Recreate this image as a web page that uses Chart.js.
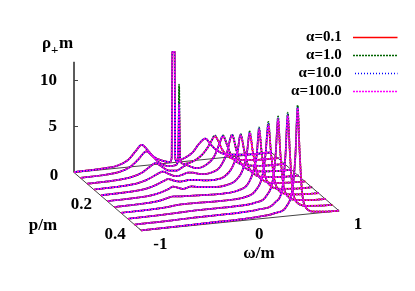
<!DOCTYPE html>
<html>
<head>
<meta charset="utf-8">
<script src="https://cdn.jsdelivr.net/npm/chart.js@4/dist/chart.umd.min.js"></script>
<style>
  html, body { margin: 0; padding: 0; background: #fff; }
  canvas { display: block; }
</style>
</head>
<body>
<canvas id="chart" width="415" height="291"></canvas>
<script>
// One curve per momentum
const pValues = [0, 0.04, 0.08, 0.12, 0.16, 0.2, 0.24, 0.28, 0.32, 0.36, 0.4];

const omegaP00 = [-1, -0.7, -0.55, -0.45, -0.38, -0.315, -0.26, -0.2, -0.1, -0.03, -0.012, -0.006, 0.018, 0.024, 0.04, 0.1, 0.2, 0.26, 0.33, 0.38, 0.45, 0.55, 0.7, 1];
const rhoP00 = [0.05, 0.12, 0.3, 0.8, 1.6, 2.27, 1.7, 0.9, 0.3, 0.1, 0.5, 12, 12, 0.5, 0.1, 0.3, 0.9, 1.7, 2.25, 1.6, 0.8, 0.3, 0.12, 0.05];
const omegaP04 = [-1, -0.75, -0.6, -0.5, -0.42, -0.336, -0.28, -0.2, -0.1, -0.04, -0.018, -0.012, -0.005, 0.002, 0.008, 0.04, 0.1, 0.2, 0.28, 0.32, 0.355, 0.39, 0.43, 0.5, 0.6, 0.75, 1];
const rhoP04 = [0.05, 0.12, 0.3, 0.7, 1.4, 2.2, 1.7, 0.8, 0.35, 0.4, 0.8, 2.5, 6.9, 2.5, 0.8, 0.45, 0.5, 1, 1.9, 2.6, 3.2, 2.6, 1.6, 0.7, 0.3, 0.12, 0.05];
const omegaP08 = [-1, -0.7, -0.55, -0.45, -0.37, -0.31, -0.25, -0.18, -0.1, -0.04, 0, 0.04, 0.1, 0.2, 0.28, 0.33, 0.371, 0.41, 0.45, 0.52, 0.6, 0.75, 1];
const rhoP08 = [0.05, 0.12, 0.3, 0.65, 1.2, 1.54, 1.1, 0.6, 0.5, 0.8, 1, 0.8, 0.55, 0.8, 1.6, 2.8, 3.82, 2.8, 1.6, 0.7, 0.35, 0.12, 0.05];
const omegaP12 = [-1, -0.7, -0.55, -0.45, -0.36, -0.305, -0.25, -0.17, -0.1, -0.05, 0, 0.08, 0.18, 0.27, 0.34, 0.394, 0.44, 0.47, 0.54, 0.65, 0.8, 1];
const rhoP12 = [0.05, 0.12, 0.28, 0.6, 1.05, 1.25, 0.95, 0.6, 0.72, 0.87, 0.8, 0.55, 0.6, 1.1, 2.5, 4.53, 2.7, 1.6, 0.65, 0.25, 0.1, 0.05];
const omegaP16 = [-1, -0.7, -0.55, -0.45, -0.37, -0.32, -0.26, -0.2, -0.12, -0.06, 0.05, 0.15, 0.25, 0.33, 0.38, 0.412, 0.45, 0.49, 0.55, 0.65, 0.8, 1];
const rhoP16 = [0.05, 0.12, 0.26, 0.55, 0.9, 1.08, 0.85, 0.68, 0.75, 0.72, 0.55, 0.5, 0.75, 1.7, 3.2, 5.2, 3.3, 1.6, 0.7, 0.25, 0.1, 0.05];
const omegaP20 = [-1, -0.7, -0.55, -0.45, -0.38, -0.34, -0.28, -0.24, -0.153, -0.05, 0.08, 0.2, 0.3, 0.37, 0.41, 0.436, 0.47, 0.51, 0.57, 0.68, 0.82, 1];
const rhoP20 = [0.05, 0.1, 0.22, 0.45, 0.72, 0.92, 0.7, 0.56, 0.73, 0.55, 0.42, 0.5, 0.95, 2.1, 3.9, 6.07, 3.7, 1.6, 0.65, 0.22, 0.1, 0.05];
const omegaP24 = [-1, -0.7, -0.55, -0.47, -0.41, -0.33, -0.2, -0.08, 0.1, 0.25, 0.35, 0.41, 0.44, 0.463, 0.49, 0.525, 0.58, 0.68, 0.82, 1];
const rhoP24 = [0.04, 0.1, 0.22, 0.42, 0.55, 0.48, 0.42, 0.36, 0.32, 0.5, 1.1, 2.6, 4.2, 7.1, 4.3, 1.8, 0.65, 0.22, 0.08, 0.04];
const omegaP28 = [-1, -0.7, -0.55, -0.41, -0.25, -0.1, 0.1, 0.25, 0.36, 0.43, 0.46, 0.489, 0.515, 0.55, 0.6, 0.7, 0.85, 1];
const rhoP28 = [0.04, 0.08, 0.15, 0.3, 0.3, 0.26, 0.26, 0.4, 1, 2.6, 4.8, 8.3, 5, 2, 0.7, 0.22, 0.08, 0.04];
const omegaP32 = [-1, -0.7, -0.5, -0.3, -0.1, 0.1, 0.28, 0.4, 0.47, 0.495, 0.519, 0.54, 0.57, 0.62, 0.72, 0.85, 1];
const rhoP32 = [0.03, 0.07, 0.13, 0.2, 0.2, 0.22, 0.38, 1, 2.9, 5.5, 9.5, 5.8, 2.2, 0.7, 0.2, 0.07, 0.03];
const omegaP36 = [-1, -0.7, -0.4, -0.2, 0.05, 0.25, 0.42, 0.5, 0.525, 0.549, 0.57, 0.595, 0.64, 0.74, 0.87, 1];
const rhoP36 = [0.03, 0.06, 0.13, 0.15, 0.18, 0.32, 0.9, 2.8, 5.8, 10.5, 6.2, 2.4, 0.7, 0.2, 0.07, 0.03];
const omegaP40 = [-1, -0.6, -0.3, 0, 0.2, 0.35, 0.47, 0.53, 0.558, 0.581, 0.6, 0.625, 0.665, 0.75, 0.88, 1];
const rhoP40 = [0.03, 0.07, 0.12, 0.15, 0.25, 0.45, 1.1, 3, 6.5, 11.9, 7, 2.5, 0.7, 0.18, 0.06, 0.03];

const omegaCurves = [omegaP00, omegaP04, omegaP08, omegaP12, omegaP16, omegaP20, omegaP24, omegaP28, omegaP32, omegaP36, omegaP40];
const rhoCurves = [rhoP00, rhoP04, rhoP08, rhoP12, rhoP16, rhoP20, rhoP24, rhoP28, rhoP32, rhoP36, rhoP40];

// The four alpha curves only separate at the tops of the peaks
const alphaLabels = ['α=0.1', 'α=1.0', 'α=10.0', 'α=100.0'];
const peakOmega = [0.355, 0.371, 0.394, 0.412, 0.436, 0.463, 0.489, 0.519, 0.549, 0.581];
const peakAlpha01 = [3.1, 3.72, 4.43, 5.08, 5.9, 6.9, 8.0, 9.2, 10.2, 11.6];
const peakAlpha1 = [3.2, 3.82, 4.53, 5.2, 6.07, 7.1, 8.3, 9.5, 10.5, 11.9];
const peakAlpha10 = [3.15, 3.76, 4.47, 5.13, 5.97, 7.0, 8.1, 9.3, 10.3, 11.7];
const peakAlpha100 = [3.1, 3.72, 4.43, 5.08, 5.9, 6.9, 8.0, 9.2, 10.2, 11.6];
const alphaPeaks = [peakAlpha01, peakAlpha1, peakAlpha10, peakAlpha100];
const spikeP04 = [6.9, 9.1, 7.1, 6.9]; // narrow spike on the p=0.04 curve

const zTicks = [5, 10];
const pTicks = [0, 0.2, 0.4];
const omegaTicks = [-1, 0, 1];

// line styles of the four series, drawn red first, magenta last
// blue sits in the gaps of the magenta dashes, which gives the purple look
const alphaStyles = [
    { color: '#ff0000', dash: [], offset: 0 },
    { color: '#006400', dash: [2, 1], offset: 0 },
    { color: '#0000ff', dash: [1, 2], offset: 1 },
    { color: '#ff00ff', dash: [2, 1], offset: 0 }
];

const pxPerRho = 9.22; // y axis, px for one unit of rho
const pxPerOmega = 98.85; // x axis, px for one unit of omega
const zeroY = 172.5; // where rho=0 sits on the left axis
const areaTop = 27;

// Oblique view of the box: p moves right and down, omega tilts up a little
function project(omega, p, rho) {
    return {
        x: omega + 1.7046 * p,
        y: rho + 1.0707 * (omega + 1) - 15.76 * p
    };
}

function seriesCurve(a, k) {
    const rho = rhoCurves[k].slice();
    if (k > 0) {
        rho[omegaCurves[k].indexOf(peakOmega[k - 1])] = alphaPeaks[a][k - 1];
    }
    if (k === 1) {
        rho[omegaCurves[k].indexOf(-0.005)] = spikeP04[a];
    }
    return rho.map((v, i) => project(omegaCurves[k][i], pValues[k], v));
}

const datasets = [];
alphaLabels.forEach((label, a) => {
    pValues.forEach((p, k) => {
        datasets.push({
            label: k === 0 ? label + ' ' : '', // trailing space keeps the text off the line sample
            data: seriesCurve(a, k),
            showLine: true,
            borderColor: alphaStyles[a].color,
            backgroundColor: alphaStyles[a].color,
            borderDash: alphaStyles[a].dash,
            borderDashOffset: alphaStyles[a].offset,
            borderWidth: 1.7,
            pointRadius: 0,
            cubicInterpolationMode: 'monotone',
            clip: false,
            order: 4 - a
        });
    });
});

// box edges and the left axis
function frameLine(points) {
    datasets.push({
        label: '',
        data: points.map(q => project(q[0], q[1], q[2])),
        showLine: true,
        borderColor: '#444',
        backgroundColor: '#444',
        borderWidth: 1,
        pointRadius: 0,
        clip: false,
        order: 5
    });
}
frameLine([[-1, 0, 12], [-1, 0, 0], [-1, 0.4, 0], [1, 0.4, 0], [1, 0, 0], [-1, 0, 0]]);
omegaTicks.forEach(w => frameLine([[w, 0.4, 0], [w, 0.388, 0]]));

const serif = 'bold 17px "Liberation Serif"';

// gnuplot style labels that sit on the floor of the box
const boxLabels = {
    id: 'boxLabels',
    afterDraw(chart) {
        const ctx = chart.ctx;
        const xs = chart.scales.x;
        const ys = chart.scales.y;
        const px = q => ({ x: xs.getPixelForValue(q.x), y: ys.getPixelForValue(q.y) });
        ctx.save();
        ctx.fillStyle = '#000';
        ctx.font = serif;
        ctx.textBaseline = 'middle';

        ctx.textAlign = 'right';
        pTicks.forEach(p => {
            const at = px(project(-1, p, 0));
            ctx.fillText(p === 0 ? '0' : p.toFixed(1), at.x - 15.7, at.y + 3.5);
        });
        ctx.textAlign = 'center';
        omegaTicks.forEach(w => {
            const at = px(project(w, 0.4, 0));
            ctx.fillText(String(w), at.x + 19, at.y + 14);
        });

        ctx.fillText('p/m', 43, 226);
        ctx.fillText('ω/m', 259, 254);

        ctx.textAlign = 'left';
        ctx.textBaseline = 'alphabetic';
        ctx.fillText('ρ', 42, 48);
        ctx.fillText('m', 59, 48);
        ctx.font = 'bold 13px "Liberation Serif"';
        ctx.fillText('+', 51, 54);
        ctx.restore();
    }
};

new Chart(document.getElementById('chart'), {
    type: 'scatter',
    data: { datasets: datasets },
    plugins: [boxLabels],
    options: {
        responsive: false,
        animation: false,
        layout: { autoPadding: false, padding: { left: 0, top: areaTop, right: 14.5, bottom: 0 } },
        plugins: {
            tooltip: { enabled: false },
            title: { display: false },
            legend: {
                position: 'right',
                align: 'start',
                rtl: true,
                reverse: true,
                maxWidth: 140,
                labels: {
                    boxWidth: 44.5,
                    boxHeight: 0,
                    padding: 3,
                    color: '#000',
                    font: { family: 'Liberation Serif', weight: 'bold', size: 15 },
                    filter: item => item.text !== ''
                }
            }
        },
        scales: {
            x: {
                type: 'linear',
                display: false,
                bounds: 'data',
                afterDataLimits: scale => {
                    scale.min = -1;
                    scale.max = -1 + scale.width / pxPerOmega;
                }
            },
            y: {
                type: 'linear',
                position: 'left',
                bounds: 'data',
                afterDataLimits: scale => {
                    scale.max = (zeroY - areaTop) / pxPerRho;
                    scale.min = scale.max - scale.height / pxPerRho;
                },
                afterFit: scale => {
                    scale.width = 74;
                    scale.paddingTop = 0;
                    scale.paddingBottom = 0;
                },
                afterBuildTicks: scale => { scale.ticks = zTicks.map(v => ({ value: v })); },
                border: { display: false },
                grid: { drawOnChartArea: false, drawTicks: true, tickLength: -4, color: '#444', lineWidth: 1 },
                ticks: {
                    padding: 21,
                    color: '#000',
                    font: { family: 'Liberation Serif', weight: 'bold', size: 17 },
                    callback: v => String(v)
                }
            }
        }
    }
});
</script>
</body>
</html>
